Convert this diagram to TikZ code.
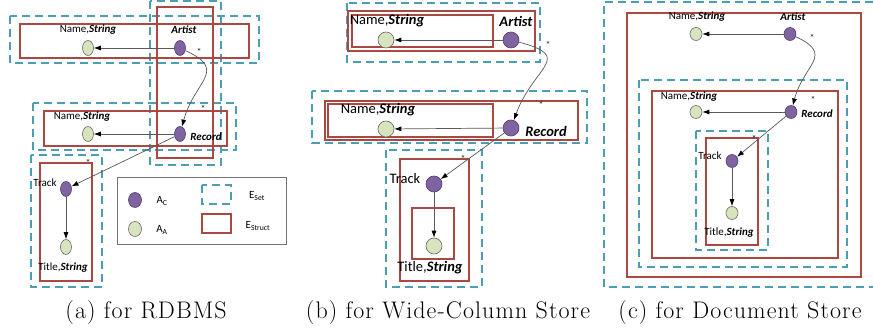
\documentclass[tikz,border=0pt]{standalone}
\usepackage{fontspec}
\newfontfamily\lblfont{Carlito}
\newfontfamily\capfont[LetterSpace=4.5]{Latin Modern Roman}
\usetikzlibrary{arrows.meta,shapes.geometric}
\definecolor{setblue}{RGB}{75,158,180}
\definecolor{structred}{RGB}{170,72,66}
\definecolor{cfill}{RGB}{128,100,162}
\definecolor{cline}{RGB}{80,62,110}
\definecolor{afill}{RGB}{215,228,189}
\definecolor{aline}{RGB}{105,105,105}
\newcommand{\bi}[1]{\textbf{\textit{#1}}}
\newcommand{\nmstr}{Name,\bi{String}}
\newcommand{\ttstr}{Title,\bi{String}}

\begin{document}
\begin{tikzpicture}[x=1pt,y=-1pt,
  setbox/.style={draw=setblue,line width=1.6pt,dash pattern=on 8pt off 5pt},
  structbox/.style={draw=structred,line width=1.3pt},
  legbox/.style={draw=black!55,line width=0.8pt},
  cnode/.style={ellipse,draw=cline,fill=cfill,inner sep=0pt,line width=0.6pt},
  anode/.style={ellipse,draw=aline,fill=afill,inner sep=0pt,line width=0.6pt},
  small/.style={minimum width=11pt,minimum height=15pt},
  big/.style={minimum width=16pt,minimum height=16pt},
  mid/.style={minimum width=12pt,minimum height=13pt},
  arr/.style={-{Latex[length=7pt,width=5pt,color=black]},draw=black!65,line width=0.7pt},
  lbl/.style={font=\lblfont\fontsize{11}{12}\selectfont,inner sep=0pt},
  lblbig/.style={font=\lblfont\fontsize{14.5}{16}\selectfont,inner sep=0pt},
  astx/.style={font=\lblfont\fontsize{10}{10}\selectfont,inner sep=0pt,text=black!85},
  subcap/.style={font=\capfont\fontsize{24}{27}\selectfont,inner sep=0pt,anchor=base}
]
  \useasboundingbox (0,0) rectangle (873,331);

  % (a) for RDBMS
  \draw[setbox] (10,16) rectangle (259,63);
  \draw[setbox] (150,1) rectangle (221,165);
  \draw[setbox] (33,103) rectangle (236,150);
  \draw[setbox] (31,155) rectangle (102,287);
  \draw[structbox] (20,24) rectangle (249,58);
  \draw[structbox] (157,7) rectangle (213,158);
  \draw[structbox] (44,111) rectangle (227,146);
  \draw[structbox] (40,163) rectangle (92,281);

  \node[cnode,small] (artA) at (180,48) {};
  \node[anode,small] (nameA) at (88,48) {};
  \node[cnode,small] (recA) at (180,134) {};
  \node[anode,small] (nameAA) at (88,134) {};
  \node[cnode,small] (trkA) at (66,189) {};
  \node[anode,small] (titA) at (66,247) {};

  \node[lbl] (artAlbl) at (184,30) {\bi{Artist}};
  \node[lbl] (nameAlbl) at (88,30) {\nmstr};
  \node[lbl] (recAlbl) at (206,137) {\bi{Record}};
  \node[lbl] (nameAAlbl) at (82,117) {\nmstr};
  \node[lbl] (trkAlbl) at (45,183) {Track};
  \node[lbl] (titAlbl) at (63,268) {\ttstr};
  \node[astx] (stA1) at (199,52) {*};
  \node[astx] (stA2) at (203,109) {*};
  \node[astx] (stA3) at (88,163) {*};

  \draw[arr] (artA) -- (nameA);
  \draw[arr] (recA) -- (nameAA);
  \draw[arr] (artA) to[out=-25,in=75,looseness=1.6] (recA);
  \draw[arr] (recA) -- (trkA);
  \draw[arr] (trkA) -- (titA);

  % legend
  \draw[legbox] (117,177) rectangle (286,244);
  \node[cnode,minimum width=13pt,minimum height=15pt] (legC) at (135,200) {};
  \node[anode,minimum width=13pt,minimum height=15pt] (legA) at (135,229) {};
  \node[lbl] (legClbl) at (162,201) {A\textsubscript{C}};
  \node[lbl] (legAlbl) at (162,230) {A\textsubscript{A}};
  \draw[setbox] (202,185) rectangle (231,204);
  \draw[structbox] (202,214) rectangle (231,233);
  \node[lbl] (legSlbl) at (257,196) {E\textsubscript{Set}};
  \node[lbl] (legTlbl) at (258,226) {E\textsubscript{Struct}};

  % (b) for Wide-Column Store
  \draw[setbox] (347,3) rectangle (540,62);
  \draw[setbox] (312,91) rectangle (587,143);
  \draw[setbox] (386,150) rectangle (482,287);
  \draw[structbox] (348,11) rectangle (535,51);
  \draw[structbox] (352,15) rectangle (493,47);
  \draw[structbox] (325,101) rectangle (578,140);
  \draw[structbox] (328,104) rectangle (493,137);
  \draw[structbox] (400,159) rectangle (469,281);
  \draw[structbox] (412,208) rectangle (454,259);

  \node[cnode,big] (artB) at (511,40) {};
  \node[anode,big] (nameB) at (386,40) {};
  \node[cnode,big] (recB) at (511,128) {};
  \node[anode,big] (nameBB) at (386,129) {};
  \node[cnode,big] (trkB) at (434,184) {};
  \node[anode,big] (titB) at (434,246) {};

  \node[lblbig] (artBlbl) at (516,21) {\bi{Artist}};
  \node[lblbig] (nameBlbl) at (387,21) {\nmstr};
  \node[lblbig] (recBlbl) at (546,131) {\bi{Record}};
  \node[lblbig] (nameBBlbl) at (378,110) {\nmstr};
  \node[lblbig] (trkBlbl) at (405,179) {Track};
  \node[lblbig] (titBlbl) at (430,268) {\ttstr};
  \node[astx] (stB1) at (548,45) {*};
  \node[astx] (stB2) at (541,105) {*};
  \node[astx] (stB3) at (463,159) {*};

  \draw[arr] (artB) -- (nameB);
  \draw[arr] (recB) -- (nameBB);
  \draw[arr] (artB) to[out=-15,in=70,looseness=1.9] (recB);
  \draw[arr] (recB) -- (trkB);
  \draw[arr] (trkB) -- (titB);

  % (c) for Document Store
  \draw[setbox] (873,2) -- (604,2) -- (604,287) -- (873,287);
  \draw[setbox] (639,80) rectangle (847,267);
  \draw[setbox] (696,131) rectangle (768,250);
  \draw[structbox] (627,13) rectangle (861,277);
  \draw[structbox] (652,91) rectangle (838,258);
  \draw[structbox] (706,138) rectangle (758,245);

  \node[cnode,mid] (artC) at (790,34) {};
  \node[anode,mid] (nameC) at (696,34) {};
  \node[cnode,mid] (recC) at (791,112) {};
  \node[anode,mid] (nameCC) at (696,112) {};
  \node[cnode,mid] (trkC) at (732,161) {};
  \node[anode,mid] (titC) at (732,213) {};

  \node[lbl] (artClbl) at (793,17) {\bi{Artist}};
  \node[lbl] (nameClbl) at (697,17) {\nmstr};
  \node[lbl] (recClbl) at (817,114) {\bi{Record}};
  \node[lbl] (nameCClbl) at (689,97) {\nmstr};
  \node[lbl] (trkClbl) at (710,156) {Track};
  \node[lbl] (titClbl) at (729,233) {\ttstr};
  \node[astx] (stC1) at (812,38) {*};
  \node[astx] (stC2) at (813,100) {*};
  \node[astx] (stC3) at (754,139) {*};

  \draw[arr] (artC) -- (nameC);
  \draw[arr] (recC) -- (nameCC);
  \draw[arr] (artC) to[out=-25,in=75,looseness=1.6] (recC);
  \draw[arr] (recC) -- (trkC);
  \draw[arr] (trkC) -- (titC);

  % captions
  \node[subcap] (capA) at (146,318) {(a) for RDBMS};
  \node[subcap] (capB) at (448,318) {(b) for Wide-Column Store};
  \node[subcap] (capC) at (740,318) {(c) for Document Store};
\end{tikzpicture}
\end{document}
